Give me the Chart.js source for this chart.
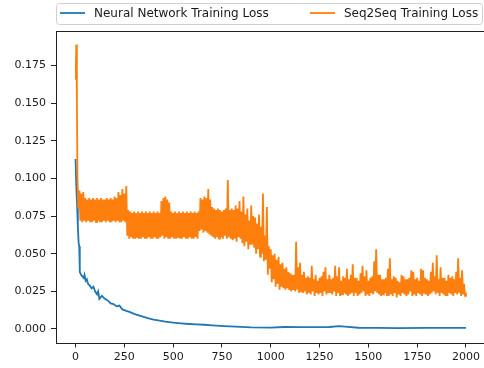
<!DOCTYPE html>
<html>
<head>
<meta charset="utf-8">
<script src="https://cdn.jsdelivr.net/npm/chart.js@4.4.1/dist/chart.umd.min.js"></script>
<style>
  html, body { margin: 0; padding: 0; background: #fff; overflow: hidden; }
  #wrap { width: 484px; height: 368px; overflow: hidden; }
  canvas { display: block; }
</style>
</head>
<body>
<div id="wrap"><canvas id="lossChart" width="488" height="368" style="width:488px;height:368px"></canvas></div>
<script>
const stepTicks = [0, 250, 500, 750, 1000, 1250, 1500, 1750, 2000];
const lossTicks = [0, 0.025, 0.05, 0.075, 0.1, 0.125, 0.15, 0.175];
const seriesNames = ['Neural Network Training Loss', 'Seq2Seq Training Loss'];

// neural network loss
const nnSteps = [0, 4, 8, 12, 16, 19, 22, 28, 35, 42,
  46, 52, 58, 64, 72, 82, 92, 100, 110, 116,
  122, 135, 150, 165, 180, 195, 210, 225, 240, 260,
  280, 300, 320, 345, 370, 400, 430, 460, 500, 540,
  580, 620, 660, 700, 760, 820, 900, 1000, 1070, 1150,
  1250, 1300, 1350, 1380, 1450, 1550, 1650, 1800, 2000];
const nnLoss = [0.113, 0.095, 0.082, 0.068, 0.057, 0.055, 0.038, 0.036, 0.035, 0.034,
  0.036, 0.032, 0.033, 0.030, 0.029, 0.027, 0.028, 0.025, 0.023, 0.025,
  0.020, 0.022, 0.020, 0.019, 0.017, 0.0165, 0.015, 0.0155, 0.013, 0.012,
  0.0112, 0.010, 0.0092, 0.0082, 0.0072, 0.0062, 0.0055, 0.0048, 0.0042, 0.0037,
  0.0033, 0.0030, 0.0028, 0.0024, 0.0019, 0.0015, 0.0011, 0.0009, 0.0013, 0.0012,
  0.0012, 0.0013, 0.0019, 0.0016, 0.0008, 0.0007, 0.0006, 0.0007, 0.0007];

// seq2seq loss: first few steps, then the peaks (steps 20, 30, ... 2000)
// and the troughs in between (steps 25, 35, ... 1995)
const seqHeadSteps = [0, 2, 4, 7, 10, 14];
const seqHeadLoss = [0.166, 0.176, 0.189, 0.150, 0.100, 0.080];
const seqHigh = [
  0.092, 0.090, 0.091, 0.087, 0.086, 0.087, 0.086, 0.087,             // 20-90
  0.086, 0.087, 0.086, 0.087, 0.086, 0.086, 0.087, 0.086, 0.087, 0.086, // 100
  0.088, 0.087, 0.091, 0.089, 0.093, 0.090, 0.095, 0.079, 0.078, 0.077, // 200
  0.078, 0.077, 0.078, 0.077, 0.078, 0.077, 0.078, 0.077, 0.078, 0.077, // 300
  0.078, 0.077, 0.078, 0.077, 0.085, 0.087, 0.088, 0.086, 0.084, 0.078, // 400
  0.077, 0.078, 0.077, 0.078, 0.077, 0.078, 0.077, 0.078, 0.077, 0.078, // 500
  0.077, 0.078, 0.077, 0.078, 0.087, 0.086, 0.088, 0.087, 0.093, 0.086, // 600
  0.081, 0.080, 0.079, 0.080, 0.079, 0.078, 0.079, 0.080, 0.099, 0.079, // 700
  0.080, 0.079, 0.082, 0.080, 0.085, 0.078, 0.088, 0.076, 0.080, 0.072, // 800
  0.082, 0.075, 0.074, 0.070, 0.076, 0.068, 0.090, 0.062, 0.081, 0.055, // 900
  0.053, 0.049, 0.050, 0.046, 0.048, 0.043, 0.044, 0.040, 0.041, 0.038, // 1000
  0.037, 0.036, 0.036, 0.058, 0.041, 0.044, 0.036, 0.038, 0.034, 0.035, // 1100
  0.034, 0.042, 0.033, 0.036, 0.032, 0.034, 0.035, 0.038, 0.041, 0.033, // 1200
  0.036, 0.033, 0.034, 0.042, 0.035, 0.041, 0.032, 0.035, 0.034, 0.040, // 1300
  0.033, 0.036, 0.043, 0.034, 0.034, 0.032, 0.037, 0.042, 0.035, 0.039, // 1400
  0.032, 0.034, 0.035, 0.045, 0.053, 0.036, 0.036, 0.033, 0.033, 0.034, // 1500
  0.040, 0.047, 0.033, 0.035, 0.034, 0.032, 0.031, 0.036, 0.035, 0.033, // 1600
  0.033, 0.034, 0.039, 0.038, 0.033, 0.034, 0.032, 0.040, 0.039, 0.034, // 1700
  0.033, 0.032, 0.038, 0.044, 0.035, 0.049, 0.033, 0.041, 0.034, 0.034, // 1800
  0.032, 0.036, 0.034, 0.035, 0.033, 0.038, 0.047, 0.034, 0.039, 0.030, // 1900
  0.024                                                                 // 2000
];
const seqLow = [
  0.072, 0.071, 0.072, 0.071, 0.072, 0.071, 0.071, 0.072,             // 25-95
  0.071, 0.072, 0.071, 0.071, 0.072, 0.071, 0.072, 0.071, 0.071, 0.072, // 105
  0.071, 0.072, 0.071, 0.071, 0.072, 0.071, 0.062, 0.060, 0.061, 0.060, // 205
  0.060, 0.061, 0.060, 0.060, 0.061, 0.060, 0.060, 0.061, 0.060, 0.060, // 305
  0.061, 0.060, 0.060, 0.061, 0.062, 0.060, 0.061, 0.060, 0.060, 0.061, // 405
  0.060, 0.060, 0.061, 0.060, 0.060, 0.061, 0.060, 0.060, 0.061, 0.060, // 505
  0.060, 0.061, 0.060, 0.065, 0.066, 0.064, 0.065, 0.064, 0.063, 0.062, // 605
  0.061, 0.060, 0.061, 0.060, 0.061, 0.060, 0.062, 0.060, 0.061, 0.060, // 705
  0.059, 0.060, 0.058, 0.061, 0.060, 0.057, 0.055, 0.058, 0.053, 0.056, // 805
  0.056, 0.054, 0.050, 0.053, 0.048, 0.050, 0.045, 0.046, 0.036, 0.040, // 905
  0.031, 0.033, 0.028, 0.030, 0.026, 0.028, 0.027, 0.026, 0.027, 0.026, // 1005
  0.025, 0.026, 0.025, 0.026, 0.024, 0.025, 0.024, 0.025, 0.023, 0.024, // 1105
  0.023, 0.025, 0.022, 0.024, 0.023, 0.024, 0.022, 0.025, 0.023, 0.024, // 1205
  0.024, 0.023, 0.025, 0.022, 0.024, 0.022, 0.023, 0.024, 0.023, 0.022, // 1305
  0.023, 0.024, 0.022, 0.024, 0.022, 0.023, 0.024, 0.025, 0.022, 0.023, // 1405
  0.022, 0.024, 0.023, 0.025, 0.024, 0.023, 0.022, 0.023, 0.024, 0.022, // 1505
  0.022, 0.023, 0.022, 0.024, 0.021, 0.023, 0.022, 0.024, 0.023, 0.022, // 1605
  0.023, 0.025, 0.022, 0.023, 0.022, 0.024, 0.023, 0.022, 0.024, 0.023, // 1705
  0.022, 0.023, 0.024, 0.025, 0.023, 0.024, 0.022, 0.024, 0.023, 0.022, // 1805
  0.022, 0.024, 0.023, 0.022, 0.024, 0.023, 0.024, 0.022, 0.023, 0.022  // 1905
];

const colors = ['#1f77b4', '#ff7f0e'];
const FONT = 'DejaVu Sans';

const nnPoints = nnSteps.map((s, i) => ({ x: s, y: nnLoss[i] }));
const seqPoints = seqHeadSteps.map((s, i) => ({ x: s, y: seqHeadLoss[i] }));
seqHigh.forEach((v, i) => {
  seqPoints.push({ x: 20 + i * 10, y: v });
  if (i < seqLow.length) seqPoints.push({ x: 25 + i * 10, y: seqLow[i] });
});

// matplotlib style frame around the plot area
const framePlugin = {
  id: 'frame',
  afterDraw(chart) {
    const { ctx, chartArea: a } = chart;
    ctx.save();
    ctx.strokeStyle = '#222';
    ctx.lineWidth = 1;
    ctx.strokeRect(Math.round(a.left) + 0.5, Math.round(a.top) + 0.5,
      Math.round(a.right - a.left), Math.round(a.bottom - a.top));
    ctx.restore();
  }
};

// legend box drawn above the plot
const legendPlugin = {
  id: 'boxLegend',
  afterDraw(chart) {
    const ctx = chart.ctx;
    const x = 56.5, y = 3.5, w = 426, h = 21, r = 3;
    ctx.save();
    ctx.beginPath();
    ctx.roundRect(x, y, w, h, r);
    ctx.fillStyle = 'rgba(255,255,255,0.8)';
    ctx.fill();
    ctx.strokeStyle = '#d0d0d0';
    ctx.lineWidth = 1;
    ctx.stroke();
    const items = [[60, 94], [310, 344]];
    ctx.font = '12px "' + FONT + '"';
    ctx.textBaseline = 'middle';
    ctx.fillStyle = '#1a1a1a';
    items.forEach((it, i) => {
      ctx.strokeStyle = colors[i];
      ctx.lineWidth = 1.8;
      ctx.beginPath();
      ctx.moveTo(it[0], 13);
      ctx.lineTo(it[0] + 25, 13);
      ctx.stroke();
      ctx.fillText(seriesNames[i], it[1], 13.5);
    });
    ctx.restore();
  }
};

new Chart(document.getElementById('lossChart'), {
  type: 'line',
  data: {
    datasets: [
      {
        label: seriesNames[0],
        data: nnPoints,
        borderColor: colors[0],
        borderWidth: 1.8,
        pointRadius: 0,
        tension: 0,
        order: 1
      },
      {
        label: seriesNames[1],
        data: seqPoints,
        borderColor: colors[1],
        borderWidth: 1.8,
        pointRadius: 0,
        tension: 0,
        order: 0
      }
    ]
  },
  options: {
    responsive: false,
    devicePixelRatio: 1,
    animation: false,
    layout: { padding: { top: 31, right: 2.5, left: 0, bottom: 0 } },
    plugins: {
      legend: { display: false },
      tooltip: { enabled: false }
    },
    scales: {
      x: {
        type: 'linear',
        min: -100,
        max: 2100,
        afterBuildTicks: scale => { scale.ticks = stepTicks.map(v => ({ value: v })); },
        afterFit: scale => { scale.height = 25.5; },
        ticks: {
          callback: v => String(v),
          color: '#1a1a1a',
          font: { family: FONT, size: 11 },
          padding: 3,
          maxRotation: 0,
          autoSkip: false
        },
        grid: { drawOnChartArea: false, tickLength: 5, tickColor: '#222', tickWidth: 1 },
        border: { display: false }
      },
      y: {
        type: 'linear',
        min: -0.009,
        max: 0.198,
        afterBuildTicks: scale => { scale.ticks = lossTicks.map(v => ({ value: v })); },
        afterFit: scale => { scale.width = 56; },
        ticks: {
          callback: v => v.toFixed(3),
          color: '#1a1a1a',
          font: { family: FONT, size: 11 },
          padding: 5,
          autoSkip: false
        },
        grid: { drawOnChartArea: false, tickLength: 5, tickColor: '#222', tickWidth: 1 },
        border: { display: false }
      }
    }
  },
  plugins: [framePlugin, legendPlugin]
});
</script>
</body>
</html>
